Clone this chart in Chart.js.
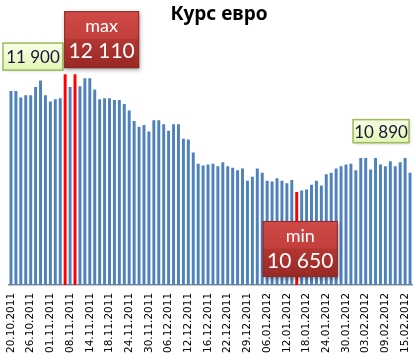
<!DOCTYPE html>
<html>
<head>
<meta charset="utf-8">
<script src="https://cdn.jsdelivr.net/npm/chart.js@4.4.0/dist/chart.umd.min.js"></script>
<style>
  html, body { margin: 0; padding: 0; background: #fff; }
  #wrap { width: 416px; height: 360px; }
</style>
</head>
<body>
<div id="wrap"><canvas id="euroChart"></canvas></div>
<script>
const chartTitle = 'Курс евро';

// Tick labels shown under every 4th bar
const tickLabels = [
  '20.10.2011', '26.10.2011', '01.11.2011', '08.11.2011', '14.11.2011',
  '18.11.2011', '24.11.2011', '30.11.2011', '06.12.2011', '12.12.2011',
  '16.12.2011', '22.12.2011', '29.12.2011', '06.01.2012', '12.01.2012',
  '18.01.2012', '24.01.2012', '30.01.2012', '03.02.2012', '09.02.2012',
  '15.02.2012'
];
const tickStep = 4;

// Daily euro rate (BYR)
const rates = [
  11900, 11900, 11820, 11850, 11850, 11950, 12030, 11850, 11770, 11800,
  11810, 12110, 11950, 12110, 11960, 12060, 12060, 11920, 11800, 11810,
  11810, 11790, 11790, 11740, 11660, 11530, 11460, 11480, 11400, 11540,
  11540, 11490, 11410, 11490, 11490, 11310, 11300, 11140, 11000, 10980,
  10990, 11000, 10970, 11020, 10970, 10950, 10920, 10940, 10790, 10840,
  10940, 10890, 10790, 10780, 10820, 10790, 10760, 10800, 10650, 10670,
  10680, 10740, 10790, 10730, 10870, 10890, 10940, 10970, 10990, 11000,
  10920, 11070, 11070, 10930, 11070, 10990, 10970, 11030, 10970, 11020,
  11070, 10890
];

const maxRate = Math.max(...rates);
const minRate = Math.min(...rates);
const categories = rates.map((_, i) => i % tickStep === 0 ? tickLabels[i / tickStep] : '');
const barColors = rates.map(v => (v === maxRate || v === minRate) ? '#ff0000' : '#4f81bd');

function fmt(v) {
  return String(v).replace(/\B(?=(\d{3})+(?!\d))/g, ' ');
}

function greenBox(ctx, x, y, w, h, text) {
  ctx.save();
  ctx.shadowColor = 'rgba(0,0,0,0.25)';
  ctx.shadowBlur = 3;
  ctx.shadowOffsetX = 1;
  ctx.shadowOffsetY = 1;
  const g = ctx.createLinearGradient(0, y, 0, y + h);
  g.addColorStop(0, '#fbffe9');
  g.addColorStop(1, '#e3f5b4');
  ctx.fillStyle = g;
  ctx.fillRect(x, y, w, h);
  ctx.shadowColor = 'transparent';
  ctx.strokeStyle = '#9bbb59';
  ctx.lineWidth = 1.5;
  ctx.strokeRect(x, y, w, h);
  ctx.fillStyle = '#141834';
  ctx.font = '17px Lato, "Liberation Sans", sans-serif';
  ctx.textAlign = 'center';
  ctx.textBaseline = 'middle';
  ctx.fillText(text, x + w / 2, y + h / 2 + 1);
  ctx.restore();
}

function redBox(ctx, x, y, w, h, title, text) {
  ctx.save();
  ctx.shadowColor = 'rgba(0,0,0,0.35)';
  ctx.shadowBlur = 4;
  ctx.shadowOffsetX = 1;
  ctx.shadowOffsetY = 2;
  const g = ctx.createLinearGradient(0, y, 0, y + h);
  g.addColorStop(0, '#d04a46');
  g.addColorStop(0.48, '#c23f3b');
  g.addColorStop(0.5, '#b33633');
  g.addColorStop(1, '#982825');
  ctx.fillStyle = g;
  ctx.fillRect(x, y, w, h);
  ctx.shadowColor = 'transparent';
  ctx.strokeStyle = '#8e2b28';
  ctx.lineWidth = 1;
  ctx.strokeRect(x + 0.5, y + 0.5, w - 1, h - 1);
  ctx.fillStyle = '#ffffff';
  ctx.textAlign = 'center';
  ctx.textBaseline = 'middle';
  ctx.font = '18px Lato, "Liberation Sans", sans-serif';
  ctx.fillText(title, x + w / 2, y + 15);
  ctx.font = '21px Lato, "Liberation Sans", sans-serif';
  ctx.fillText(text, x + w / 2, y + 40);
  ctx.restore();
}

const calloutPlugin = {
  id: 'callouts',
  afterDatasetsDraw(chart) {
    const ctx = chart.ctx;
    const bars = chart.getDatasetMeta(0).data;
    const first = bars[0];
    const last = bars[bars.length - 1];
    const maxBar = bars[rates.indexOf(maxRate)];
    const minBar = bars[rates.indexOf(minRate)];
    greenBox(ctx, first.x - 8, first.y - 48, 60, 27, fmt(rates[0]));
    greenBox(ctx, last.x - 57, last.y - 53, 56, 23, fmt(rates[rates.length - 1]));
    redBox(ctx, maxBar.x - 1, maxBar.y - 63, 75, 57, 'max', fmt(maxRate));
    redBox(ctx, minBar.x - 34, minBar.y + 29, 75, 56, 'min', fmt(minRate));

    // title, offset right of center as in the original
    ctx.save();
    ctx.fillStyle = '#000';
    ctx.font = 'bold 19px "Noto Sans", sans-serif';
    ctx.textAlign = 'center';
    ctx.textBaseline = 'middle';
    ctx.fillText(chartTitle, 219, 15);
    ctx.restore();
  }
};

const canvas = document.getElementById('euroChart');
canvas.chart = new Chart(canvas.getContext('2d'), {
  type: 'bar',
  data: {
    labels: categories,
    datasets: [{
      data: rates,
      backgroundColor: barColors,
      borderWidth: 0,
      barPercentage: 0.6,
      categoryPercentage: 1
    }]
  },
  options: {
    responsive: true,
    maintainAspectRatio: false,
    animation: false,
    layout: { padding: { left: 8.5, right: 3.5, top: 40, bottom: -1 } },
    plugins: {
      legend: { display: false },
      tooltip: { enabled: false },
      title: { display: false }
    },
    scales: {
      x: {
        grid: { display: false, drawTicks: false },
        border: { display: true, color: '#8c8c8c', width: 1.5 },
        ticks: {
          autoSkip: false,
          minRotation: 90,
          maxRotation: 90,
          padding: 8,
          color: '#000',
          font: { family: '"DejaVu Sans", sans-serif', size: 10.5 }
        },
        afterFit(scale) {
          // rotated labels ask for extra side room; the original has none
          scale.paddingLeft = 0;
          scale.paddingRight = 0;
        }
      },
      y: {
        display: false,
        min: 9500,
        max: 12533
      }
    }
  },
  plugins: [calloutPlugin]
});
</script>
</body>
</html>
